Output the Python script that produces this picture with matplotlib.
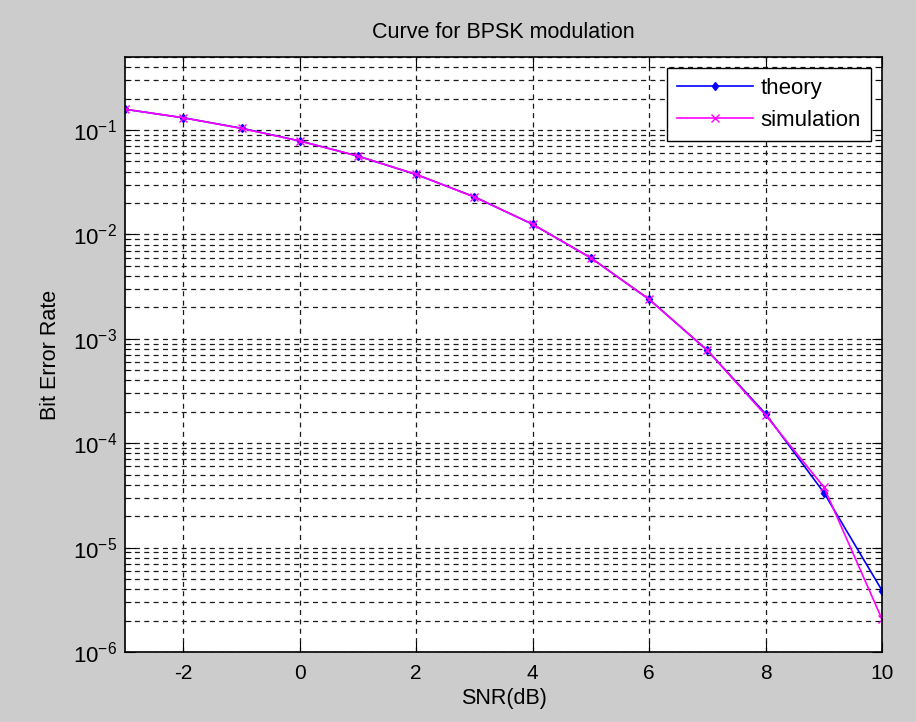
import numpy as np
import matplotlib.pyplot as plt
from matplotlib.ticker import LogLocator, NullFormatter

plt.rcParams['font.family'] = ['Liberation Sans', 'DejaVu Sans']
plt.rcParams['mathtext.fontset'] = 'custom'
plt.rcParams['mathtext.rm'] = 'Liberation Sans'
plt.rcParams['mathtext.it'] = 'Liberation Sans'
plt.rcParams['mathtext.default'] = 'regular'
plt.rcParams['axes.unicode_minus'] = False

snr_db = [-3, -2, -1, 0, 1, 2, 3, 4, 5, 6, 7, 8, 9, 10]
ber_theory = [0.158, 0.131, 0.104, 0.0786, 0.0563, 0.0375, 0.0229, 0.0125,
              0.00595, 0.00239, 0.000773, 0.000191, 3.36e-5, 3.87e-6]
ber_sim = [0.158, 0.131, 0.1035, 0.0784, 0.0562, 0.0376, 0.0228, 0.0125,
           0.00596, 0.00238, 0.000775, 0.000185, 3.8e-5, 2.05e-6]
x_ticks = [-2, 0, 2, 4, 6, 8, 10]

fig = plt.figure(figsize=(9.16, 7.22), dpi=100, facecolor='#cccccc')
ax = fig.add_axes([0.1365, 0.097, 0.8265, 0.824])

ax.semilogy(snr_db, ber_theory, color='#0000ff', marker='d', markersize=4.5,
            linewidth=1.2, label='theory')
ax.semilogy(snr_db, ber_sim, color='#ff00ff', marker='x', markersize=6,
            markeredgewidth=1, linewidth=1.2, label='simulation')

ax.set_xlim(-3, 10)
ax.set_ylim(1e-6, 0.5)
ax.set_xticks(x_ticks)
ax.yaxis.set_major_locator(LogLocator(base=10, numticks=10))
ax.yaxis.set_minor_locator(LogLocator(base=10, subs=np.arange(2, 10), numticks=20))
ax.yaxis.set_minor_formatter(NullFormatter())

ax.grid(True, which='major', linestyle=(0, (4, 3.5)), color='#1a1a1a', linewidth=0.9)
ax.grid(True, which='minor', axis='y', linestyle=(0, (4, 3.5)), color='#1a1a1a', linewidth=0.9)
ax.tick_params(which='both', direction='in', top=True, right=True, labelsize=15,
               colors='black')
ax.tick_params(which='major', length=7)
ax.tick_params(axis='x', which='major', pad=9)
ax.tick_params(axis='y', which='major', pad=6, labelsize=16)
ax.tick_params(which='minor', length=4)
for s in ax.spines.values():
    s.set_linewidth(1.2)

ax.set_title('Curve for BPSK modulation', fontsize=15.5, pad=14)
ax.set_xlabel('SNR(dB)', fontsize=15.5, labelpad=3)
ax.set_ylabel('Bit Error Rate', fontsize=15.5, labelpad=8)

leg = ax.legend(loc='upper right', fontsize=16, fancybox=False, framealpha=1,
                edgecolor='black', borderaxespad=0.5, handlelength=3.4,
                handletextpad=0.35, labelspacing=0.5, borderpad=0.45)
leg.get_frame().set_linewidth(1.0)

fig.savefig('out.png', dpi=100, facecolor=fig.get_facecolor())
